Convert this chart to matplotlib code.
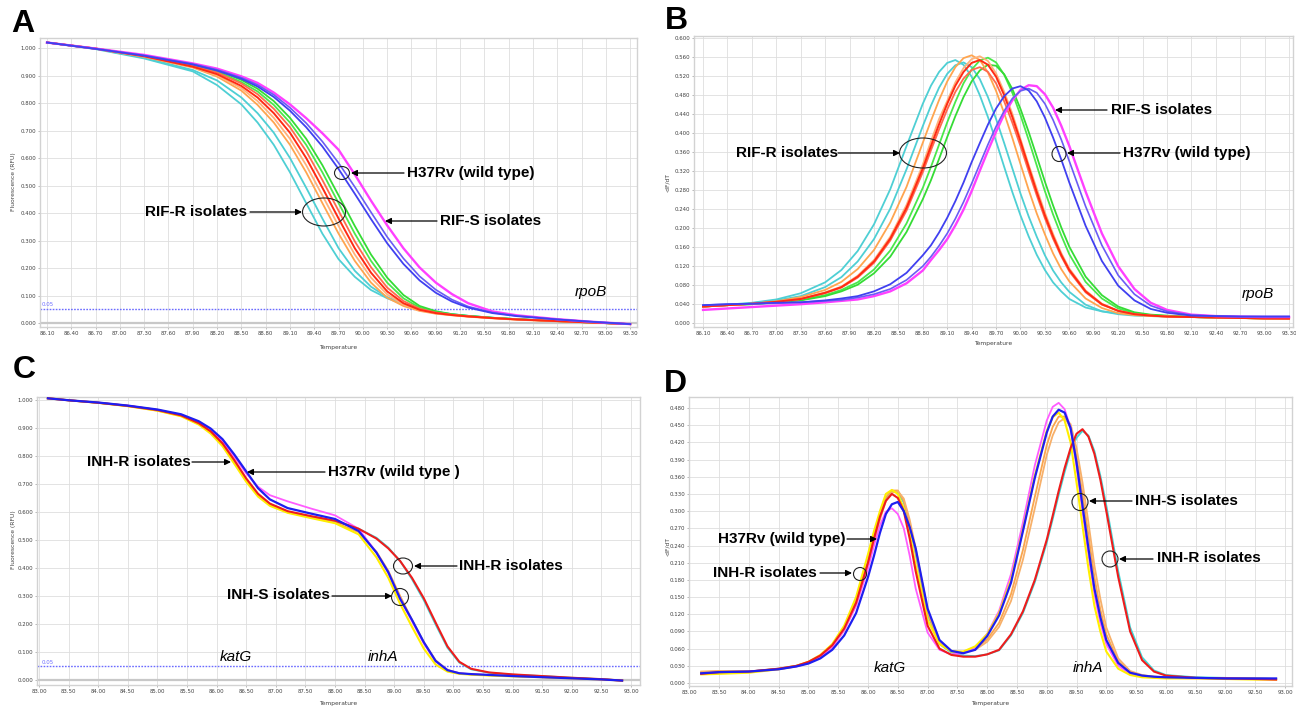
import matplotlib
matplotlib.use("Agg")
import matplotlib.pyplot as plt
from matplotlib.patches import Ellipse, FancyArrowPatch
import numpy as np

W, H = 1296, 707

# ---------------- Panel A : rpoB melt curves (fluorescence) ----------------
temp_a = [86.1, 86.7, 87.3, 87.9, 88.2, 88.5, 88.7, 88.9, 89.1, 89.3, 89.5, 89.7, 89.9,
          90.1, 90.3, 90.5, 90.7, 90.9, 91.1, 91.3, 91.6, 91.9, 92.4, 92.8, 93.3]
a_cyan1 = [1.020, 0.996, 0.962, 0.915, 0.865, 0.795, 0.729, 0.648, 0.548, 0.436, 0.325, 0.232, 0.168,
           0.120, 0.090, 0.068, 0.052, 0.040, 0.032, 0.026, 0.019, 0.014, 0.007, 0.002, -0.004]
a_cyan2 = [1.020, 0.997, 0.965, 0.920, 0.882, 0.820, 0.763, 0.692, 0.600, 0.492, 0.380, 0.272, 0.190,
           0.132, 0.094, 0.070, 0.053, 0.041, 0.032, 0.026, 0.019, 0.014, 0.007, 0.002, -0.004]
a_orange1 = [1.020, 0.997, 0.968, 0.929, 0.896, 0.845, 0.793, 0.729, 0.648, 0.548, 0.436, 0.325, 0.226,
             0.147, 0.092, 0.062, 0.044, 0.034, 0.028, 0.023, 0.017, 0.012, 0.006, 0.002, -0.004]
a_orange2 = [1.020, 0.998, 0.969, 0.931, 0.901, 0.854, 0.807, 0.746, 0.670, 0.574, 0.464, 0.353, 0.249,
             0.165, 0.104, 0.067, 0.046, 0.035, 0.029, 0.024, 0.018, 0.013, 0.007, 0.002, -0.004]
a_red1 = [1.020, 0.998, 0.970, 0.932, 0.905, 0.862, 0.820, 0.763, 0.692, 0.600, 0.492, 0.380, 0.272,
          0.183, 0.115, 0.072, 0.048, 0.036, 0.029, 0.024, 0.018, 0.013, 0.007, 0.002, -0.004]
a_red2 = [1.020, 0.998, 0.971, 0.934, 0.911, 0.871, 0.832, 0.779, 0.712, 0.625, 0.520, 0.408, 0.297,
          0.203, 0.129, 0.080, 0.052, 0.038, 0.030, 0.024, 0.018, 0.013, 0.007, 0.002, -0.004]
a_green1 = [1.020, 0.998, 0.972, 0.936, 0.914, 0.876, 0.842, 0.793, 0.729, 0.648, 0.548, 0.436, 0.325,
            0.226, 0.147, 0.090, 0.056, 0.040, 0.031, 0.025, 0.019, 0.014, 0.007, 0.002, -0.004]
a_green2 = [1.020, 0.998, 0.972, 0.937, 0.919, 0.884, 0.852, 0.807, 0.746, 0.670, 0.574, 0.464, 0.353,
            0.249, 0.165, 0.102, 0.062, 0.043, 0.032, 0.026, 0.019, 0.014, 0.007, 0.002, -0.004]
a_blue1 = [1.020, 0.997, 0.972, 0.940, 0.918, 0.888, 0.860, 0.822, 0.772, 0.712, 0.642, 0.560, 0.470,
           0.378, 0.290, 0.215, 0.155, 0.110, 0.078, 0.056, 0.036, 0.025, 0.013, 0.005, -0.004]
a_blue2 = [1.020, 0.997, 0.973, 0.942, 0.921, 0.892, 0.866, 0.830, 0.783, 0.727, 0.660, 0.582, 0.495,
           0.403, 0.313, 0.235, 0.170, 0.121, 0.085, 0.060, 0.038, 0.026, 0.013, 0.005, -0.004]
a_magenta = [1.020, 0.998, 0.975, 0.944, 0.925, 0.897, 0.873, 0.838, 0.795, 0.745, 0.690, 0.630, 0.540,
             0.445, 0.355, 0.272, 0.202, 0.147, 0.105, 0.072, 0.042, 0.028, 0.014, 0.005, -0.004]

# ---------------- Panel B : rpoB derivative (-dF/dT) ----------------
temp_b = [86.1, 86.4, 86.7, 87.0, 87.3, 87.6, 87.8, 88.0, 88.2, 88.4, 88.6, 88.8,
          88.9, 89.0, 89.1, 89.2, 89.3, 89.4, 89.5, 89.6, 89.7, 89.8, 89.9, 90.0, 90.1, 90.2, 90.3, 90.4, 90.5, 90.6,
          90.8, 91.0, 91.2, 91.4, 91.6, 91.8, 92.1, 92.4, 92.7, 93.0, 93.3]
b_cyan1 = [0.035, 0.038, 0.042, 0.049, 0.062, 0.085, 0.111, 0.151, 0.207, 0.281, 0.372, 0.461,
           0.499, 0.528, 0.547, 0.553, 0.543, 0.518, 0.479, 0.433, 0.382, 0.328, 0.275, 0.226, 0.182, 0.143, 0.111, 0.085, 0.066, 0.050,
           0.032, 0.024, 0.020, 0.018, 0.016, 0.014, 0.012, 0.011, 0.010, 0.010, 0.009]
b_cyan2 = [0.034, 0.037, 0.041, 0.047, 0.056, 0.075, 0.096, 0.129, 0.176, 0.240, 0.323, 0.414,
           0.457, 0.495, 0.524, 0.542, 0.548, 0.538, 0.513, 0.475, 0.429, 0.378, 0.325, 0.272, 0.224, 0.181, 0.142, 0.110, 0.085, 0.065,
           0.038, 0.024, 0.018, 0.015, 0.014, 0.013, 0.012, 0.011, 0.010, 0.010, 0.009]
b_orange1 = [0.034, 0.037, 0.040, 0.045, 0.054, 0.069, 0.086, 0.113, 0.153, 0.211, 0.286, 0.379,
             0.425, 0.469, 0.508, 0.538, 0.557, 0.563, 0.553, 0.527, 0.488, 0.441, 0.389, 0.334, 0.280, 0.230, 0.186, 0.146, 0.113, 0.087,
             0.051, 0.031, 0.020, 0.016, 0.014, 0.013, 0.012, 0.011, 0.010, 0.009, 0.009]
b_orange2 = [0.034, 0.037, 0.040, 0.044, 0.050, 0.064, 0.076, 0.099, 0.132, 0.181, 0.248, 0.333,
             0.382, 0.429, 0.467, 0.506, 0.536, 0.555, 0.561, 0.551, 0.525, 0.486, 0.440, 0.387, 0.333, 0.282, 0.232, 0.187, 0.147, 0.114,
             0.068, 0.040, 0.025, 0.018, 0.015, 0.013, 0.012, 0.011, 0.010, 0.009, 0.009]
b_red1 = [0.034, 0.037, 0.040, 0.044, 0.050, 0.063, 0.075, 0.097, 0.129, 0.177, 0.242, 0.325,
          0.372, 0.418, 0.461, 0.499, 0.528, 0.547, 0.553, 0.543, 0.518, 0.479, 0.433, 0.382, 0.328, 0.275, 0.226, 0.182, 0.143, 0.111,
          0.066, 0.039, 0.025, 0.018, 0.015, 0.013, 0.012, 0.011, 0.010, 0.009, 0.009]
b_red2 = [0.034, 0.037, 0.040, 0.044, 0.050, 0.062, 0.074, 0.095, 0.126, 0.173, 0.236, 0.317,
          0.363, 0.407, 0.449, 0.486, 0.514, 0.532, 0.538, 0.528, 0.504, 0.466, 0.421, 0.372, 0.319, 0.268, 0.220, 0.177, 0.140, 0.108,
          0.064, 0.038, 0.025, 0.018, 0.015, 0.013, 0.012, 0.011, 0.010, 0.009, 0.008]
b_green1 = [0.034, 0.037, 0.039, 0.043, 0.048, 0.058, 0.069, 0.085, 0.112, 0.152, 0.209, 0.284,
            0.328, 0.375, 0.422, 0.465, 0.504, 0.533, 0.552, 0.558, 0.548, 0.522, 0.484, 0.437, 0.385, 0.331, 0.277, 0.228, 0.184, 0.144,
            0.086, 0.051, 0.030, 0.020, 0.016, 0.014, 0.012, 0.011, 0.010, 0.009, 0.009]
b_green2 = [0.034, 0.037, 0.039, 0.043, 0.047, 0.056, 0.066, 0.080, 0.104, 0.139, 0.191, 0.260,
            0.300, 0.345, 0.391, 0.435, 0.475, 0.508, 0.531, 0.543, 0.541, 0.523, 0.492, 0.450, 0.402, 0.350, 0.297, 0.247, 0.201, 0.160,
            0.097, 0.058, 0.034, 0.022, 0.017, 0.015, 0.012, 0.011, 0.010, 0.009, 0.009]
b_blue1 = [0.037, 0.039, 0.040, 0.042, 0.043, 0.047, 0.051, 0.056, 0.066, 0.081, 0.105, 0.142,
           0.163, 0.190, 0.221, 0.256, 0.295, 0.338, 0.378, 0.417, 0.451, 0.477, 0.493, 0.498, 0.489, 0.466, 0.432, 0.390, 0.344, 0.295,
           0.204, 0.130, 0.078, 0.047, 0.029, 0.021, 0.015, 0.014, 0.013, 0.013, 0.013]
b_blue2 = [0.037, 0.039, 0.040, 0.041, 0.043, 0.046, 0.048, 0.053, 0.060, 0.071, 0.090, 0.119,
           0.139, 0.162, 0.188, 0.219, 0.254, 0.293, 0.334, 0.375, 0.413, 0.446, 0.472, 0.488, 0.493, 0.484, 0.461, 0.427, 0.386, 0.340,
           0.245, 0.163, 0.100, 0.060, 0.036, 0.024, 0.016, 0.014, 0.013, 0.013, 0.013]
b_magenta = [0.027, 0.030, 0.033, 0.036, 0.039, 0.043, 0.046, 0.049, 0.056, 0.066, 0.083, 0.110,
             0.132, 0.153, 0.176, 0.205, 0.238, 0.277, 0.320, 0.362, 0.402, 0.439, 0.468, 0.490, 0.500, 0.498, 0.481, 0.453, 0.415, 0.372,
             0.276, 0.188, 0.119, 0.071, 0.042, 0.027, 0.017, 0.014, 0.013, 0.012, 0.012]

# ---------------- Panel C : katG / inhA melt curves ----------------
temp_c = [83.15, 83.5, 84.0, 84.5, 85.0, 85.4, 85.7, 85.9, 86.1, 86.3, 86.5, 86.7, 86.9, 87.2, 87.6, 88.0,
          88.4, 88.7, 88.9, 89.1, 89.3, 89.5, 89.7, 89.9, 90.1, 90.3, 90.6, 91.0, 91.5, 92.0, 92.5, 92.85]
c_cyan = [1.006, 0.999, 0.990, 0.979, 0.964, 0.945, 0.916, 0.886, 0.842, 0.780, 0.716, 0.662, 0.628, 0.601, 0.583, 0.567,
          0.540, 0.508, 0.473, 0.425, 0.360, 0.285, 0.198, 0.115, 0.062, 0.038, 0.026, 0.019, 0.014, 0.008, 0.003, -0.002]
c_orange = [1.006, 0.999, 0.990, 0.978, 0.962, 0.943, 0.914, 0.884, 0.840, 0.778, 0.714, 0.660, 0.626, 0.599, 0.580, 0.562,
            0.528, 0.458, 0.390, 0.300, 0.215, 0.135, 0.070, 0.036, 0.024, 0.020, 0.017, 0.014, 0.010, 0.006, 0.002, -0.002]
c_magenta = [1.006, 0.999, 0.991, 0.980, 0.965, 0.947, 0.920, 0.892, 0.852, 0.797, 0.738, 0.690, 0.660, 0.638, 0.612, 0.588,
             0.540, 0.455, 0.382, 0.290, 0.210, 0.130, 0.066, 0.035, 0.024, 0.021, 0.018, 0.014, 0.010, 0.006, 0.002, -0.002]
c_yellow = [1.006, 0.999, 0.990, 0.978, 0.962, 0.942, 0.912, 0.880, 0.835, 0.772, 0.708, 0.655, 0.622, 0.597, 0.578, 0.560,
            0.520, 0.438, 0.365, 0.272, 0.190, 0.112, 0.055, 0.030, 0.022, 0.019, 0.016, 0.013, 0.010, 0.006, 0.002, -0.002]
c_red = [1.006, 0.999, 0.990, 0.979, 0.964, 0.945, 0.917, 0.888, 0.845, 0.785, 0.720, 0.665, 0.630, 0.603, 0.585, 0.569,
         0.540, 0.505, 0.470, 0.425, 0.365, 0.292, 0.205, 0.120, 0.065, 0.040, 0.027, 0.020, 0.014, 0.008, 0.003, -0.002]
c_blue = [1.006, 0.999, 0.991, 0.980, 0.966, 0.949, 0.924, 0.898, 0.860, 0.805, 0.745, 0.685, 0.645, 0.614, 0.594, 0.575,
          0.532, 0.455, 0.385, 0.290, 0.215, 0.135, 0.068, 0.035, 0.024, 0.021, 0.018, 0.014, 0.010, 0.006, 0.002, -0.002]

# ---------------- Panel D : katG / inhA derivative ----------------
temp_d = [83.2, 83.5, 84.0, 84.5, 84.8, 85.0, 85.2, 85.4, 85.6, 85.8, 86.0, 86.1, 86.2, 86.3, 86.4, 86.5, 86.6, 86.7, 86.8,
          87.0, 87.2, 87.4, 87.6, 87.8, 88.0, 88.2, 88.4, 88.6, 88.8, 89.0, 89.1, 89.2, 89.3, 89.4, 89.5, 89.6, 89.7, 89.8, 89.9,
          90.0, 90.2, 90.4, 90.6, 90.8, 91.0, 91.5, 92.0, 92.5, 92.85]
d_cyan = [0.018, 0.020, 0.020, 0.025, 0.030, 0.036, 0.047, 0.065, 0.095, 0.142, 0.212, 0.254, 0.292, 0.322, 0.334, 0.333, 0.315, 0.275, 0.225,
          0.120, 0.068, 0.053, 0.048, 0.047, 0.050, 0.057, 0.083, 0.122, 0.176, 0.245, 0.286, 0.328, 0.368, 0.404, 0.428, 0.440, 0.432, 0.405, 0.362,
          0.310, 0.195, 0.097, 0.045, 0.022, 0.014, 0.010, 0.009, 0.008, 0.007]
d_orange1 = [0.020, 0.021, 0.020, 0.025, 0.030, 0.036, 0.047, 0.065, 0.095, 0.142, 0.212, 0.254, 0.292, 0.324, 0.336, 0.336, 0.318, 0.278, 0.228,
             0.122, 0.070, 0.055, 0.054, 0.060, 0.076, 0.105, 0.155, 0.232, 0.325, 0.415, 0.447, 0.465, 0.465, 0.445, 0.395, 0.330, 0.258, 0.185, 0.128,
             0.085, 0.038, 0.019, 0.013, 0.011, 0.010, 0.009, 0.008, 0.008, 0.007]
d_orange2 = [0.019, 0.020, 0.020, 0.024, 0.029, 0.035, 0.046, 0.063, 0.092, 0.137, 0.205, 0.246, 0.285, 0.318, 0.332, 0.335, 0.322, 0.285, 0.235,
             0.128, 0.073, 0.056, 0.054, 0.058, 0.072, 0.098, 0.143, 0.215, 0.305, 0.398, 0.432, 0.455, 0.462, 0.452, 0.410, 0.350, 0.280, 0.205, 0.147,
             0.097, 0.043, 0.021, 0.014, 0.011, 0.010, 0.009, 0.008, 0.008, 0.007]
d_magenta = [0.016, 0.018, 0.019, 0.024, 0.029, 0.035, 0.046, 0.063, 0.092, 0.135, 0.200, 0.240, 0.275, 0.299, 0.305, 0.295, 0.270, 0.222, 0.165,
             0.088, 0.058, 0.050, 0.052, 0.062, 0.086, 0.126, 0.190, 0.280, 0.380, 0.458, 0.482, 0.489, 0.478, 0.445, 0.378, 0.300, 0.225, 0.155, 0.105,
             0.068, 0.030, 0.016, 0.011, 0.010, 0.009, 0.008, 0.008, 0.007, 0.007]
d_yellow = [0.015, 0.016, 0.018, 0.024, 0.030, 0.037, 0.049, 0.068, 0.100, 0.150, 0.225, 0.265, 0.300, 0.330, 0.337, 0.330, 0.305, 0.260, 0.205,
            0.110, 0.068, 0.055, 0.055, 0.064, 0.085, 0.122, 0.180, 0.268, 0.362, 0.440, 0.464, 0.472, 0.458, 0.420, 0.350, 0.275, 0.200, 0.135, 0.090,
            0.055, 0.025, 0.014, 0.010, 0.009, 0.008, 0.008, 0.007, 0.006, 0.006]
d_red = [0.016, 0.019, 0.020, 0.025, 0.030, 0.037, 0.048, 0.066, 0.095, 0.140, 0.210, 0.252, 0.290, 0.318, 0.330, 0.323, 0.300, 0.252, 0.195,
         0.100, 0.060, 0.049, 0.046, 0.046, 0.050, 0.058, 0.085, 0.125, 0.180, 0.250, 0.292, 0.335, 0.375, 0.410, 0.435, 0.443, 0.430, 0.400, 0.355,
         0.300, 0.185, 0.090, 0.040, 0.020, 0.013, 0.009, 0.008, 0.007, 0.006]
d_blue = [0.017, 0.019, 0.020, 0.024, 0.029, 0.034, 0.043, 0.058, 0.083, 0.122, 0.185, 0.222, 0.262, 0.295, 0.312, 0.316, 0.300, 0.272, 0.235,
          0.130, 0.075, 0.056, 0.052, 0.058, 0.082, 0.118, 0.175, 0.265, 0.358, 0.437, 0.465, 0.477, 0.472, 0.445, 0.385, 0.310, 0.235, 0.165, 0.115,
          0.075, 0.035, 0.018, 0.013, 0.011, 0.010, 0.009, 0.008, 0.008, 0.008]

threshold = 0.05

# ---------------- figure ----------------
fig = plt.figure(figsize=(W / 100, H / 100), dpi=100)
fig.patch.set_facecolor("white")


def fx(x):
    return x / W


def fy(y):
    return 1 - y / H


def make_ax(left, top, right, bottom):
    return fig.add_axes([fx(left), fy(bottom), (right - left) / W, (bottom - top) / H])


def style(ax, xlim, ylim, xticks, yticks):
    ax.set_xlim(*xlim)
    ax.set_ylim(*ylim)
    ax.set_xticks(xticks)
    ax.set_yticks(yticks)
    ax.set_xticklabels([f"{t:.2f}" for t in xticks])
    ax.set_yticklabels([f"{t:.3f}" for t in yticks])
    ax.tick_params(axis="both", labelsize=3.9, length=1.6, width=0.5, pad=1.2,
                   color="#9a9a9a", labelcolor="#404040")
    ax.grid(True, color="#dedede", lw=0.6, zorder=0)
    ax.set_axisbelow(True)
    for s in ax.spines.values():
        s.set_color("#d2d2d2")
        s.set_linewidth(1.0)


# Panel A
axA = make_ax(40, 38, 637, 327)
style(axA, (86.014, 93.384), (-0.0145, 1.0364),
      np.round(np.arange(86.10, 93.31, 0.30), 2), np.round(np.arange(0, 1.01, 0.1), 1))
axA.axhline(0, color="#c8c8c8", lw=1.6, zorder=1)
axA.axhline(threshold, color="#6b6bff", lw=1.0, ls=(0, (1.2, 1.0)), zorder=2)
for y, c, lw in [(a_cyan1, "#4ecfd4", 1.3), (a_cyan2, "#4ecfd4", 1.3),
                 (a_green1, "#4be84b", 1.3), (a_green2, "#35dc35", 1.3),
                 (a_orange1, "#ffa54f", 1.3), (a_orange2, "#ffb27a", 1.3),
                 (a_red2, "#ff6a4d", 1.3), (a_red1, "#ff2a14", 1.4),
                 (a_magenta, "#ff40ff", 1.7),
                 (a_blue2, "#6a5cf5", 1.2), (a_blue1, "#4040f0", 1.3)]:
    axA.plot(temp_a, y, color=c, lw=lw, zorder=3, solid_joinstyle="round")

# Panel B
axB = make_ax(694, 36, 1293, 327)
style(axB, (85.989, 93.348), (-0.009, 0.6036),
      np.round(np.arange(86.10, 93.31, 0.30), 2), np.round(np.arange(0, 0.601, 0.04), 2))
for y, c, lw in [(b_cyan1, "#4ecfd4", 1.3), (b_cyan2, "#4ecfd4", 1.3),
                 (b_green1, "#4be84b", 1.3), (b_green2, "#35dc35", 1.3),
                 (b_orange1, "#ffa54f", 1.3), (b_orange2, "#ffb27a", 1.3),
                 (b_red2, "#ff6a4d", 1.3), (b_red1, "#ff2a14", 1.4),
                 (b_magenta, "#ff40ff", 1.7),
                 (b_blue2, "#6a5cf5", 1.2), (b_blue1, "#4040f0", 1.3)]:
    axB.plot(temp_b, y, color=c, lw=lw, zorder=3, solid_joinstyle="round")

# Panel C
axC = make_ax(37, 397, 640, 685)
style(axC, (82.966, 93.152), (-0.0179, 1.0107),
      np.round(np.arange(83.0, 93.01, 0.5), 2), np.round(np.arange(0, 1.01, 0.1), 1))
axC.axhline(0, color="#c8c8c8", lw=1.6, zorder=1)
axC.axhline(threshold, color="#6b6bff", lw=1.0, ls=(0, (1.2, 1.0)), zorder=2)
for y, c, lw in [(c_cyan, "#3fd6d6", 1.3), (c_orange, "#f9a54d", 1.3),
                 (c_magenta, "#ff5cff", 1.3), (c_yellow, "#ffee00", 1.5),
                 (c_red, "#ee1c1c", 1.5), (c_blue, "#1e1ef0", 1.6)]:
    axC.plot(temp_c, y, color=c, lw=lw, zorder=3, solid_joinstyle="round")

# Panel D
axD = make_ax(689, 397, 1292, 686)
style(axD, (82.995, 93.117), (-0.0052, 0.4992),
      np.round(np.arange(83.0, 93.01, 0.5), 2), np.round(np.arange(0, 0.481, 0.03), 2))
for y, c, lw in [(d_cyan, "#3fd6d6", 1.3), (d_orange1, "#f9a54d", 1.3), (d_orange2, "#f7b06a", 1.3),
                 (d_magenta, "#ff5cff", 1.3), (d_yellow, "#ffee00", 1.5),
                 (d_red, "#ee1c1c", 1.5), (d_blue, "#1e1ef0", 1.6)]:
    axD.plot(temp_d, y, color=c, lw=lw, zorder=3, solid_joinstyle="round")

# axis titles (tiny, like the instrument software)
small = dict(fontsize=4.3, color="#404040")
for x, y in [(338, 347), (993, 344), (338, 703), (990, 703)]:
    fig.text(fx(x), fy(y), "Temperature", ha="center", va="center", **small)
fig.text(fx(14), fy(182), "Fluorescence (RFU)", rotation=90, ha="center", va="center", **small)
fig.text(fx(14), fy(540), "Fluorescence (RFU)", rotation=90, ha="center", va="center", **small)
fig.text(fx(668), fy(182), "-dF/dT", rotation=90, ha="center", va="center", **small)
fig.text(fx(668), fy(546), "-dF/dT", rotation=90, ha="center", va="center", **small)
fig.text(fx(42), fy(305), "0.05", ha="left", va="center", fontsize=3.9, color="#6b6bff")
fig.text(fx(42), fy(662), "0.05", ha="left", va="center", fontsize=3.9, color="#6b6bff")

# panel letters
for s, x, y in [("A", 23, 24), ("B", 676, 21), ("C", 24, 370), ("D", 675, 384)]:
    fig.text(fx(x), fy(y), s, ha="center", va="center", fontsize=23, fontweight="bold",
             family="Liberation Sans")

BOLD = dict(fontsize=11, fontweight="bold", family="Liberation Sans", va="center", color="black")
ITAL = dict(fontsize=11, style="italic", family="Liberation Sans", va="center", ha="center", color="black")


def label(text, x, y, ha="left"):
    fig.text(fx(x), fy(y), text, ha=ha, **BOLD)


def arrow(x0, y0, x1, y1):
    fig.add_artist(FancyArrowPatch((fx(x0), fy(y0)), (fx(x1), fy(y1)), transform=fig.transFigure,
                                   arrowstyle="-|>", mutation_scale=9, lw=0.9, color="black",
                                   shrinkA=0, shrinkB=0))


def ring(x, y, w, h):
    fig.add_artist(Ellipse((fx(x), fy(y)), w / W, h / H, transform=fig.transFigure,
                           fill=False, lw=0.8, ec="#222222"))


# Panel A annotations
label("H37Rv (wild type)", 407, 173)
arrow(404, 173, 351, 173)
ring(342, 173, 15, 13)
label("RIF-R isolates", 247, 212, ha="right")
arrow(250, 212, 302, 212)
ring(324, 212, 43, 28)
label("RIF-S isolates", 440, 221)
arrow(437, 221, 385, 221)
fig.text(fx(591), fy(292), "rpoB", **ITAL)

# Panel B annotations
label("RIF-R isolates", 736, 153)
arrow(838, 153, 900, 153)
ring(923, 153, 47, 30)
label("RIF-S isolates", 1111, 110)
arrow(1107, 110, 1055, 110)
label("H37Rv (wild type)", 1123, 153)
arrow(1120, 153, 1067, 153)
ring(1059, 154, 14, 15)
fig.text(fx(1258), fy(294), "rpoB", **ITAL)

# Panel C annotations
label("INH-R isolates", 87, 462)
arrow(192, 462, 231, 462)
label("H37Rv (wild type )", 328, 472)
arrow(325, 472, 247, 472)
label("INH-R isolates", 459, 566)
arrow(457, 566, 414, 566)
ring(403, 566, 19, 16)
label("INH-S isolates", 227, 595)
arrow(332, 596, 392, 596)
ring(400, 597, 17, 17)
fig.text(fx(236), fy(657), "katG", **ITAL)
fig.text(fx(383), fy(657), "inhA", **ITAL)

# Panel D annotations
label("H37Rv (wild type)", 718, 539)
arrow(847, 539, 877, 539)
label("INH-R isolates", 713, 573)
arrow(820, 573, 852, 573)
ring(860, 574, 13, 13)
label("INH-S isolates", 1135, 501)
arrow(1132, 501, 1089, 501)
ring(1080, 502, 16, 17)
label("INH-R isolates", 1157, 558)
arrow(1153, 559, 1119, 559)
ring(1110, 559, 16, 16)
fig.text(fx(890), fy(668), "katG", **ITAL)
fig.text(fx(1088), fy(668), "inhA", **ITAL)

fig.savefig("out.png", dpi=100, facecolor="white")
